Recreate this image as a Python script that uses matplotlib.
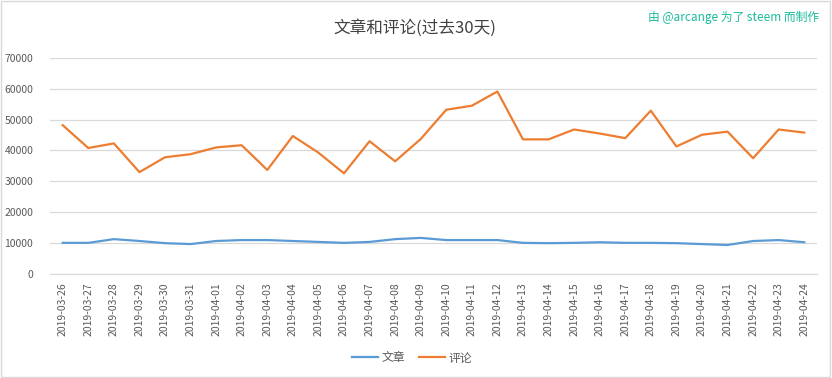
import matplotlib
matplotlib.use("Agg")
import matplotlib.pyplot as plt

plt.rcParams['font.family'] = ['Noto Sans CJK SC', 'DejaVu Sans']

dates = ['2019-03-26', '2019-03-27', '2019-03-28', '2019-03-29', '2019-03-30',
         '2019-03-31', '2019-04-01', '2019-04-02', '2019-04-03', '2019-04-04',
         '2019-04-05', '2019-04-06', '2019-04-07', '2019-04-08', '2019-04-09',
         '2019-04-10', '2019-04-11', '2019-04-12', '2019-04-13', '2019-04-14',
         '2019-04-15', '2019-04-16', '2019-04-17', '2019-04-18', '2019-04-19',
         '2019-04-20', '2019-04-21', '2019-04-22', '2019-04-23', '2019-04-24']

posts = [10100, 10100, 11300, 10700, 10000, 9700, 10700, 11000, 11000, 10700,
         10400, 10100, 10400, 11300, 11700, 11000, 11000, 11000, 10100, 10000,
         10100, 10300, 10100, 10100, 10000, 9700, 9400, 10700, 11000, 10300]

comments = [48200, 40800, 42300, 33000, 37800, 38800, 41000, 41700, 33700, 44700,
            39300, 32600, 43000, 36500, 43700, 53200, 54500, 59100, 43600, 43600,
            46800, 45500, 44000, 52900, 41300, 45100, 46100, 37500, 46800, 45800]

yticks = [0, 10000, 20000, 30000, 40000, 50000, 60000, 70000]

fig = plt.figure(figsize=(8.32, 3.78), dpi=100)
ax = fig.add_axes([0.060, 0.275, 0.922, 0.572])

x = list(range(len(dates)))
ax.plot(x, posts, color='#5B9BD5', lw=1.6, label='文章')
ax.plot(x, comments, color='#ED7D31', lw=1.6, label='评论')

ax.set_xlim(-0.5, len(dates) - 0.5)
ax.set_ylim(0, 70000)
ax.set_yticks(yticks)
ax.set_yticklabels([str(v) for v in yticks])
ax.set_xticks(x)
ax.set_xticklabels(dates, rotation=90)
ax.tick_params(axis='both', length=0, colors='#595959', labelsize=7.5)
ax.tick_params(axis='x', pad=6)
ax.tick_params(axis='y', pad=12)
ax.grid(axis='y', color='#D9D9D9', lw=0.9)
ax.set_axisbelow(True)
for s in ['top', 'right', 'left']:
    ax.spines[s].set_visible(False)
ax.spines['bottom'].set_color('#D9D9D9')

fig.text(0.499, 0.925, '文章和评论(过去30天)', ha='center', va='center',
         fontsize=12, color='#404040')
fig.text(0.985, 0.955, '由 @arcange 为了 steem 而制作', ha='right', va='center',
         fontsize=8.5, color='#1ABC9C')

fig.legend(loc='center', bbox_to_anchor=(0.495, 0.053), ncol=2, frameon=False,
           fontsize=8.5, handlelength=2.2, columnspacing=1.2, handletextpad=0.3,
           labelcolor='#595959')

fig.add_artist(plt.Rectangle((0.001, 0.002), 0.997, 0.995, transform=fig.transFigure,
                             fill=False, edgecolor='#D9D9D9', lw=1))

fig.savefig('out.png', dpi=100)
